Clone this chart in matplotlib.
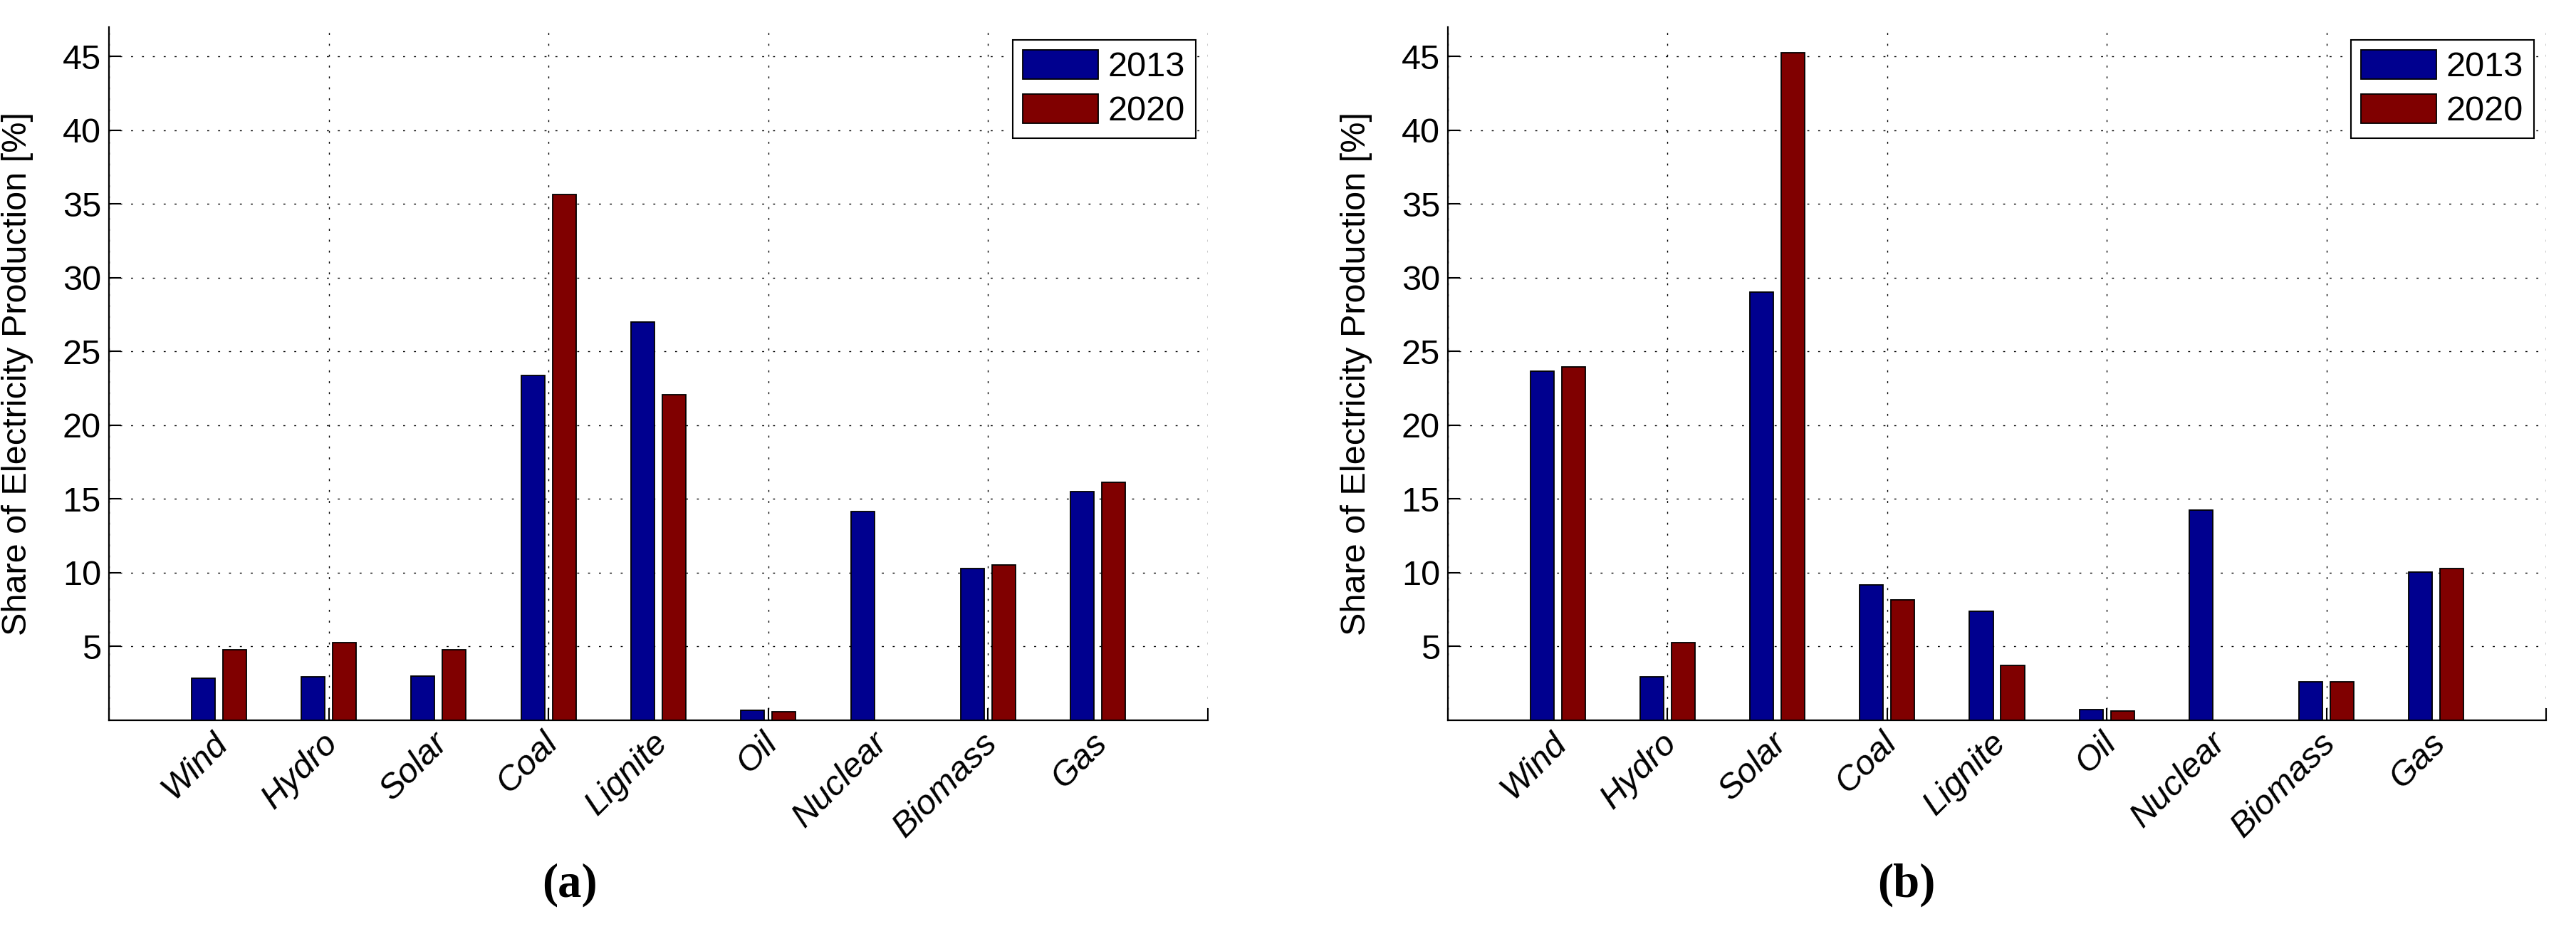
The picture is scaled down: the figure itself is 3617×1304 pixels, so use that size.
import numpy as np
import matplotlib
matplotlib.use("Agg")
import matplotlib.pyplot as plt
from matplotlib.transforms import ScaledTranslation

plt.rcParams['font.family'] = ['Liberation Sans', 'DejaVu Sans']

# data
categories = ['Wind', 'Hydro', 'Solar', 'Coal', 'Lignite', 'Oil', 'Nuclear', 'Biomass', 'Gas']
years = ['2013', '2020']
share_a_2013 = [2.87, 2.95, 2.99, 23.37, 26.99, 0.70, 14.17, 10.31, 15.49]
share_a_2020 = [4.80, 5.28, 4.76, 35.63, 22.09, 0.58, 0.0, 10.55, 16.14]
share_b_2013 = [23.69, 2.95, 29.04, 9.18, 7.37, 0.74, 14.25, 2.59, 10.07]
share_b_2020 = [23.97, 5.28, 45.24, 8.14, 3.71, 0.62, 0.0, 2.63, 10.27]
yticks = [5, 10, 15, 20, 25, 30, 35, 40, 45]
panel_labels = ['(a)', '(b)']

col_2013 = '#00008F'
col_2020 = '#800000'
fs = 35

W, H = 3617, 1304
fig = plt.figure(figsize=(W / 100, H / 100), dpi=100)

ax_a = fig.add_axes([153 / W, (H - 1011) / H, (1696 - 153) / W, (1011 - 38) / H])
ax_b = fig.add_axes([2033 / W, (H - 1011) / H, (3575 - 2033) / W, (1011 - 38) / H])


def draw_panel(ax, v2013, v2020):
    x = np.arange(1, len(categories) + 1)
    off = 0.1425
    bw = 0.215
    ax.bar(x - off, v2013, bw, color=col_2013, edgecolor='black', linewidth=1.3, label=years[0], zorder=3)
    ax.bar(x + off, v2020, bw, color=col_2020, edgecolor='black', linewidth=1.3, label=years[1], zorder=3)

    ax.set_xlim(0, 10)
    ax.set_ylim(0, 47)
    ax.set_yticks(yticks)
    ax.set_xticks([0, 2, 4, 6, 8, 10])
    ax.set_xticklabels([])
    ax.tick_params(axis='both', direction='in', length=12, width=1.5, labelsize=fs)
    ax.tick_params(axis='y', pad=8)
    ax.tick_params(axis='x', bottom=True, top=False)

    for s in ['top', 'right']:
        ax.spines[s].set_visible(False)
    for s in ['left', 'bottom']:
        ax.spines[s].set_linewidth(1.6)

    ax.set_axisbelow(True)
    ax.grid(True, color='black', linestyle=(0, (2, 9)), linewidth=1.0)

    # rotated category labels, right-top corner just under the axis
    shift = ScaledTranslation(22 / 100, -9 / 100, fig.dpi_scale_trans)
    for xi, name in zip(x, categories):
        ax.text(xi, 0, name, transform=ax.get_xaxis_transform() + shift,
                rotation=45, ha='right', va='top', fontsize=fs, style='italic')

    ax.set_ylabel('Share of Electricity Production [%]', fontsize=fs)
    ax.yaxis.set_label_coords(-0.069, 0.5)

    leg = ax.legend(loc='upper right', fontsize=fs, fancybox=False, framealpha=1,
                    edgecolor='black', handlelength=2.18, handleheight=0.93,
                    handletextpad=0.27, labelspacing=0.3, borderpad=0.3,
                    borderaxespad=0.36)
    leg.get_frame().set_linewidth(1.5)


draw_panel(ax_a, share_a_2013, share_a_2020)
draw_panel(ax_b, share_b_2013, share_b_2020)

fig.text(800 / W, 1 - 1242 / H, panel_labels[0], ha='center', va='center',
         fontsize=48, fontweight='bold', family='Liberation Serif')
fig.text(2677 / W, 1 - 1242 / H, panel_labels[1], ha='center', va='center',
         fontsize=48, fontweight='bold', family='Liberation Serif')

fig.savefig('out.png', dpi=100, facecolor='white')
